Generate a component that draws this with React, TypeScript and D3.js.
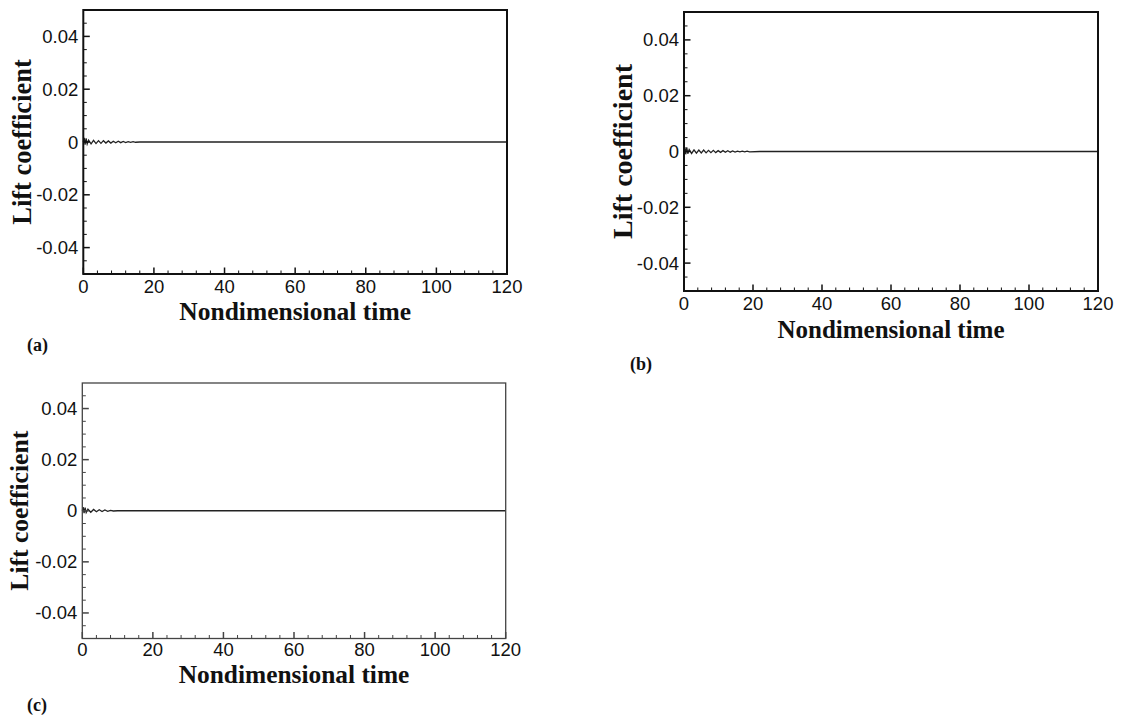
import React from "react";
import * as d3 from "d3";

// ---- data ----
const xTicks = [0, 20, 40, 60, 80, 100, 120];
const yTicks = [-0.04, -0.02, 0, 0.02, 0.04];
const yTickLabels = ["-0.04", "-0.02", "0", "0.02", "0.04"];
const xMinorTicks = [4, 8, 12, 16, 24, 28, 32, 36, 44, 48, 52, 56, 64, 68, 72, 76, 84, 88, 92, 96, 104, 108, 112, 116];
const yMinorTicks = [-0.045, -0.035, -0.03, -0.025, -0.015, -0.01, -0.005, 0.005, 0.01, 0.015, 0.025, 0.03, 0.035, 0.045];

const timeA = [0, 0.25, 0.5, 0.8, 1.1, 1.5, 2.2, 2.9, 3.6, 4.3, 5.0, 5.7, 6.4, 7.1, 7.8, 8.5, 9.2, 9.9, 10.6, 11.3, 12.0, 12.7, 13.4, 14.1, 14.8, 16, 30, 60, 90, 120];
const liftA = [0, 0.0016, -0.001, 0.0014, -0.0008, 0.0007, -0.0007, 0.0006, -0.0006, 0.0005, -0.0005, 0.0005, -0.0004, 0.0004, -0.0004, 0.0003, -0.0003, 0.0003, -0.00025, 0.0002, -0.0002, 0.00015, -0.00015, 0.0001, -0.0001, 0, 0, 0, 0, 0];

const timeB = [0, 0.25, 0.5, 0.8, 1.1, 1.5, 2.2, 2.9, 3.6, 4.3, 5.0, 5.7, 6.4, 7.1, 7.8, 8.5, 9.2, 9.9, 10.6, 11.3, 12.0, 12.7, 13.4, 14.1, 14.8, 15.5, 16.2, 16.9, 17.6, 18.3, 19, 22, 30, 60, 90, 120];
const liftB = [0, 0.0016, -0.001, 0.0015, -0.0008, 0.0007, -0.0007, 0.0006, -0.0006, 0.0005, -0.0005, 0.0005, -0.0005, 0.0004, -0.0004, 0.0004, -0.0004, 0.0003, -0.0003, 0.0003, -0.0003, 0.00025, -0.00025, 0.0002, -0.0002, 0.00015, -0.00015, 0.00012, -0.00012, 0.0001, -0.0001, 0, 0, 0, 0, 0];

const timeC = [0, 0.25, 0.5, 0.8, 1.1, 1.6, 2.4, 3.2, 4.0, 4.8, 5.6, 6.4, 7.2, 8.0, 8.8, 10, 30, 60, 90, 120];
const liftC = [0, 0.0014, -0.0009, 0.0012, -0.0007, 0.0006, -0.0006, 0.0005, -0.0004, 0.0004, -0.0003, 0.0003, -0.0002, 0.00015, -0.0001, 0, 0, 0, 0, 0];

type PanelProps = {
  L: number; R: number; T: number; B: number;
  time: number[]; lift: number[];
  frameW: number; frameColor: string;
  xLabelDy: number;
  yTitleX: number; yTitleSize: number;
  xTitleY: number; xTitleSize: number;
  letter: string; letterX: number; letterY: number;
};

function Panel(p: PanelProps) {
  const x = d3.scaleLinear().domain([0, 120]).range([p.L, p.R]);
  const y = d3.scaleLinear().domain([-0.05, 0.05]).range([p.B, p.T]);
  const pts = p.time.map((t, i) => [t, p.lift[i]] as [number, number]);
  const line = d3.line<[number, number]>().x((d) => x(d[0])).y((d) => y(d[1]));
  const tickFont = "'Liberation Sans', Arial, sans-serif";
  const titleFont = "'Liberation Serif', 'Times New Roman', serif";
  return (
    <g>
      <path d={line(pts) || ""} fill="none" stroke="#222" strokeWidth={1.3} />
      {/* minor ticks */}
      {xMinorTicks.map((t) => (
        <line key={"xm" + t} x1={x(t)} x2={x(t)} y1={p.B} y2={p.B - 3.5} stroke={p.frameColor} strokeWidth={1} />
      ))}
      {yMinorTicks.map((t) => (
        <line key={"ym" + t} x1={p.L} x2={p.L + 3.5} y1={y(t)} y2={y(t)} stroke={p.frameColor} strokeWidth={1} />
      ))}
      {/* major ticks */}
      {xTicks.map((t) => (
        <line key={"xM" + t} x1={x(t)} x2={x(t)} y1={p.B} y2={p.B - 6.5} stroke={p.frameColor} strokeWidth={1.5} />
      ))}
      {yTicks.map((t) => (
        <line key={"yM" + t} x1={p.L} x2={p.L + 6.5} y1={y(t)} y2={y(t)} stroke={p.frameColor} strokeWidth={1.5} />
      ))}
      <rect x={p.L} y={p.T} width={p.R - p.L} height={p.B - p.T} fill="none" stroke={p.frameColor} strokeWidth={p.frameW} />
      {/* tick labels */}
      {xTicks.map((t) => (
        <text key={"xl" + t} x={x(t)} y={p.B + p.xLabelDy} textAnchor="middle" fontFamily={tickFont} fontSize={18.5} fill="#111">
          {t}
        </text>
      ))}
      {yTicks.map((t, i) => (
        <text key={"yl" + t} x={p.L - 5} y={y(t) + 6.5} textAnchor="end" fontFamily={tickFont} fontSize={18.5} fill="#111">
          {yTickLabels[i]}
        </text>
      ))}
      {/* titles */}
      <text x={(p.L + p.R) / 2} y={p.xTitleY} textAnchor="middle" fontFamily={titleFont} fontWeight="bold" fontSize={p.xTitleSize} fill="#111">
        Nondimensional time
      </text>
      <text
        transform={`translate(${p.yTitleX},${(p.T + p.B) / 2}) rotate(-90)`}
        textAnchor="middle"
        fontFamily={titleFont}
        fontWeight="bold"
        fontSize={p.yTitleSize}
        fill="#111"
      >
        Lift coefficient
      </text>
      <text x={p.letterX} y={p.letterY} fontFamily={titleFont} fontWeight="bold" fontSize={18} fill="#111">
        {p.letter}
      </text>
    </g>
  );
}

export default function App() {
  return (
    <svg width={1135} height={722} style={{ position: "absolute", left: 0, top: 0, background: "#fff" }}>
      <rect x={0} y={0} width={1135} height={722} fill="#fff" />
      <Panel L={83.3} R={507} T={10} B={274} time={timeA} lift={liftA} frameW={2} frameColor="#111" xLabelDy={19}
        yTitleX={31} yTitleSize={26.5} xTitleY={320} xTitleSize={25.5} letter="(a)" letterX={27} letterY={351} />
      <Panel L={684} R={1098} T={12} B={291} time={timeB} lift={liftB} frameW={2} frameColor="#111" xLabelDy={19}
        yTitleX={632} yTitleSize={28} xTitleY={338} xTitleSize={25} letter="(b)" letterX={630} letterY={370} />
      <Panel L={82.3} R={505.7} T={383} B={638.5} time={timeC} lift={liftC} frameW={1.3} frameColor="#444" xLabelDy={17.5}
        yTitleX={28} yTitleSize={25.6} xTitleY={683} xTitleSize={25.4} letter="(c)" letterX={27} letterY={711} />
    </svg>
  );
}
